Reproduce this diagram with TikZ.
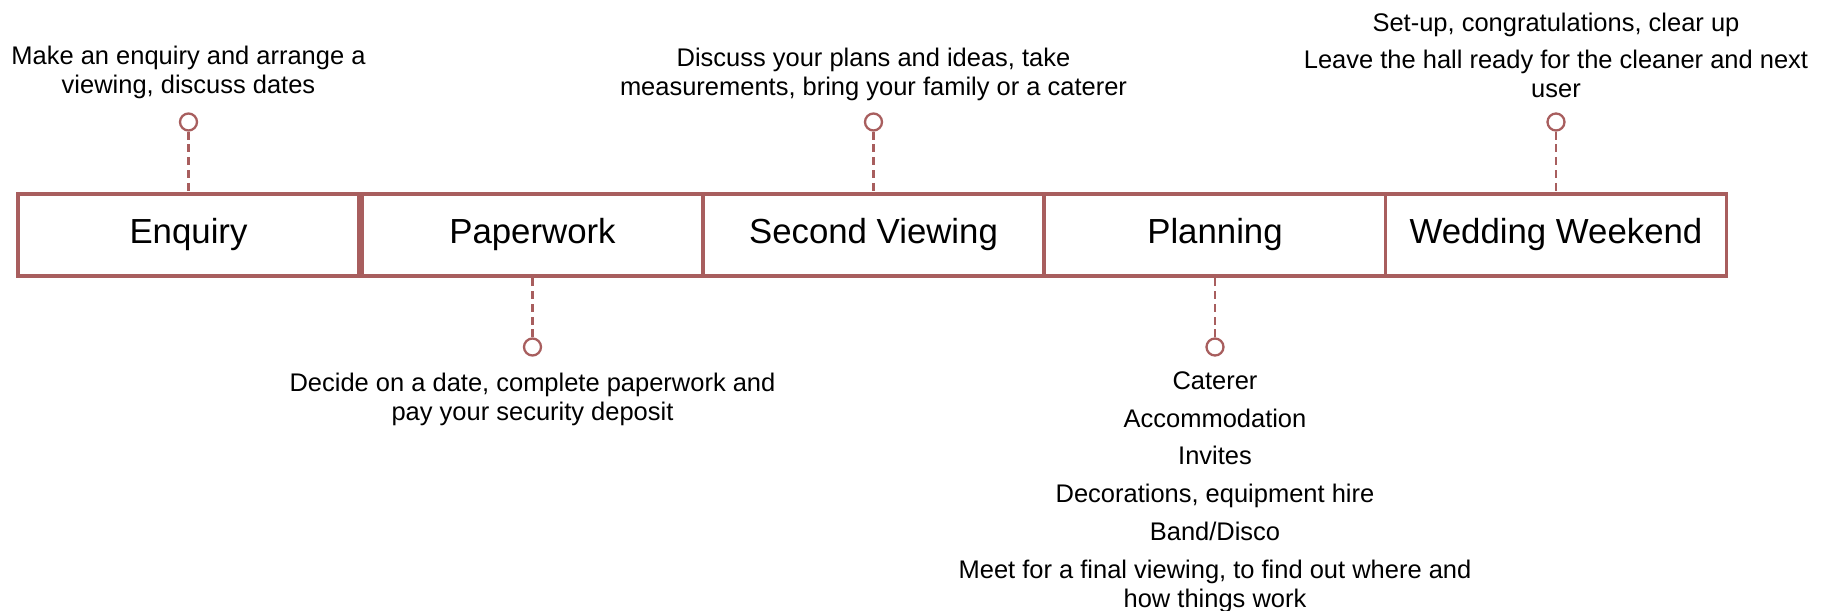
\documentclass[tikz,border=0pt]{standalone}
\usepackage{fontspec}
\setmainfont{Liberation Sans}
\usepackage{tikz}
\definecolor{rose}{RGB}{168,94,94}

\begin{document}
\begin{tikzpicture}[
  stage/.style={draw=rose, line width=2.1pt, minimum width=6.82cm, minimum height=1.64cm, inner sep=0pt, font=\fontsize{19.8}{23}\selectfont},
  pin/.style={circle, draw=rose, fill=white, line width=1.3pt, minimum size=0.34cm, inner sep=0pt},
  stem/.style={draw=rose, line width=1.4pt, dash pattern=on 4.5pt off 2.8pt},
  note/.style={align=center, font=\fontsize{14.5}{16.5}\selectfont}]
\useasboundingbox (0cm,0cm) rectangle (36.5cm,12.2cm);
\node[stage] (enq) at (3.77cm,7.5cm) {Enquiry};
\node[stage] (pap) at (10.65cm,7.5cm) {Paperwork};
\node[stage] (sec) at (17.47cm,7.5cm) {Second Viewing};
\node[stage] (pla) at (24.3cm,7.5cm) {Planning};
\node[stage] (wed) at (31.12cm,7.5cm) {Wedding Weekend};
\node[pin] (enqpin) at (3.77cm,9.76cm) {};
\node[pin] (pappin) at (10.65cm,5.26cm) {};
\node[pin] (secpin) at (17.47cm,9.76cm) {};
\node[pin] (plapin) at (24.3cm,5.26cm) {};
\node[pin] (wedpin) at (31.12cm,9.76cm) {};
\draw[stem] (enqpin) -- (enq);
\draw[stem] (pappin) -- (pap);
\draw[stem] (secpin) -- (sec);
\draw[stem] (plapin) -- (pla);
\draw[stem] (wedpin) -- (wed);
\node[note] (enqtxt) at (3.77cm,10.76cm) {Make an enquiry and arrange a\\viewing, discuss dates};
\node[note] (paptxt) at (10.65cm,4.22cm) {Decide on a date, complete paperwork and\\pay your security deposit};
\node[note] (sectxt) at (17.47cm,10.72cm) {Discuss your plans and ideas, take\\measurements, bring your family or a caterer};
\node[note] (platxt) at (24.3cm,2.36cm) {Caterer\\[5pt]Accommodation\\[5pt]Invites\\[5pt]Decorations, equipment hire\\[5pt]Band/Disco\\[5pt]Meet for a final viewing, to find out where and\\how things work};
\node[note] (wedtxt) at (31.12cm,11.09cm) {Set-up, congratulations, clear up\\[5pt]Leave the hall ready for the cleaner and next\\user};
\end{tikzpicture}
\end{document}
